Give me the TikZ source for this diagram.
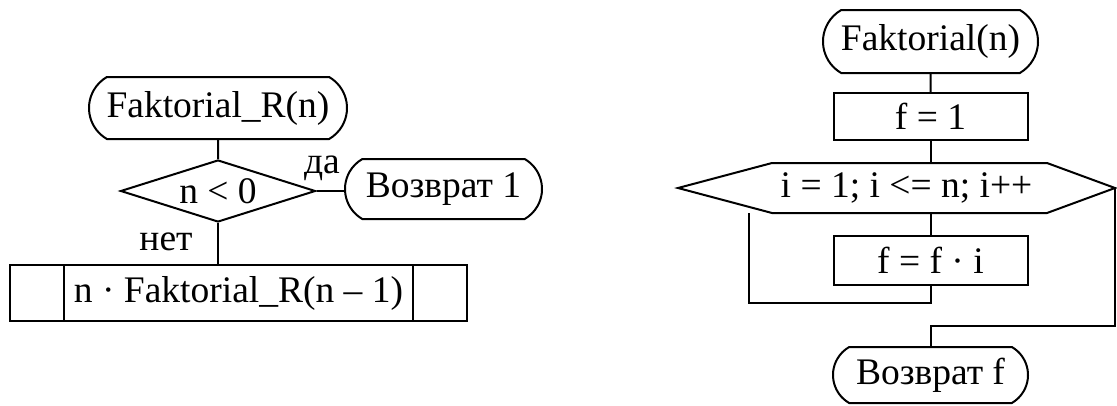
\documentclass[tikz,border=0pt]{standalone}
\usepackage{fontspec}
\setmainfont{Liberation Serif}
\usetikzlibrary{shapes.geometric, shapes.misc}

\tikzset{
    term/.style={draw, rounded rectangle, rounded rectangle arc length=120, inner sep=0pt},
    proc/.style={draw, rectangle, inner sep=0pt},
    cond/.style={draw, diamond, aspect=3.1, inner sep=0pt}
}

\begin{document}
\begin{tikzpicture}[x=1pt,y=-1pt,line width=2pt,font=\fontsize{37.5}{41}\selectfont]
            \useasboundingbox (0,0) rectangle (1117,405);

            % recursive version
            \node[term, minimum width=258pt, minimum height=62pt] (startR) at (218,108) {Faktorial\_R(n)};
            \node[cond, minimum width=195pt, minimum height=62pt] (check) at (218,191) {n < 0};
            \node[term, minimum width=197pt, minimum height=60pt] (ret1) at (443.5,189) {Возврат 1};
            \node[proc, minimum width=457pt, minimum height=56pt] (call) at (238.5,293) {n · Faktorial\_R(n – 1)};
            \draw ([xshift=55pt]call.north west) -- ([xshift=55pt]call.south west);
            \draw ([xshift=-55pt]call.north east) -- ([xshift=-55pt]call.south east);

            % connectors and labels
            \draw (startR) -- (check);
            \draw (check.east) -- (check.east -| ret1.west);
            \draw (check.south) -- (check.south |- call.north);
            \node (yes) at (322,168.5) {да};
            \node (no) at (166,241.5) {нет};

            % iterative version
            \node[term, minimum width=215pt, minimum height=63pt] (start) at (930.5,41.5) {Faktorial(n)};
            \node[proc, minimum width=194pt, minimum height=47pt] (init) at (930.5,116.5) {f = 1};
            \node (loop) at (906.5,188) {i = 1; i <= n; i++};
            \draw (678,188) coordinate (hl) -- (772,163) coordinate (htl) -- (1047,163) coordinate (htr)
                -- (1115,188) coordinate (hr) -- (1047,213) coordinate (hbr) -- (772,213) coordinate (hbl) -- cycle;
            \node[proc, minimum width=194pt, minimum height=49pt] (body) at (930.5,260.5) {f = f · i};
            \node[term, minimum width=195pt, minimum height=56pt] (ret) at (930.5,375) {Возврат f};

            % loop connectors
            \draw (start) -- (init);
            \draw (init.south) -- (init.south |- htl);
            \draw (init.south |- hbl) -- (body.north);
            \draw (body.south) |- (749,303) coordinate (back) -- (back |- hbl);
            \draw (hr) |- (930.5,326) coordinate (exit) -- (exit |- ret.north);

        \end{tikzpicture}
\end{document}
